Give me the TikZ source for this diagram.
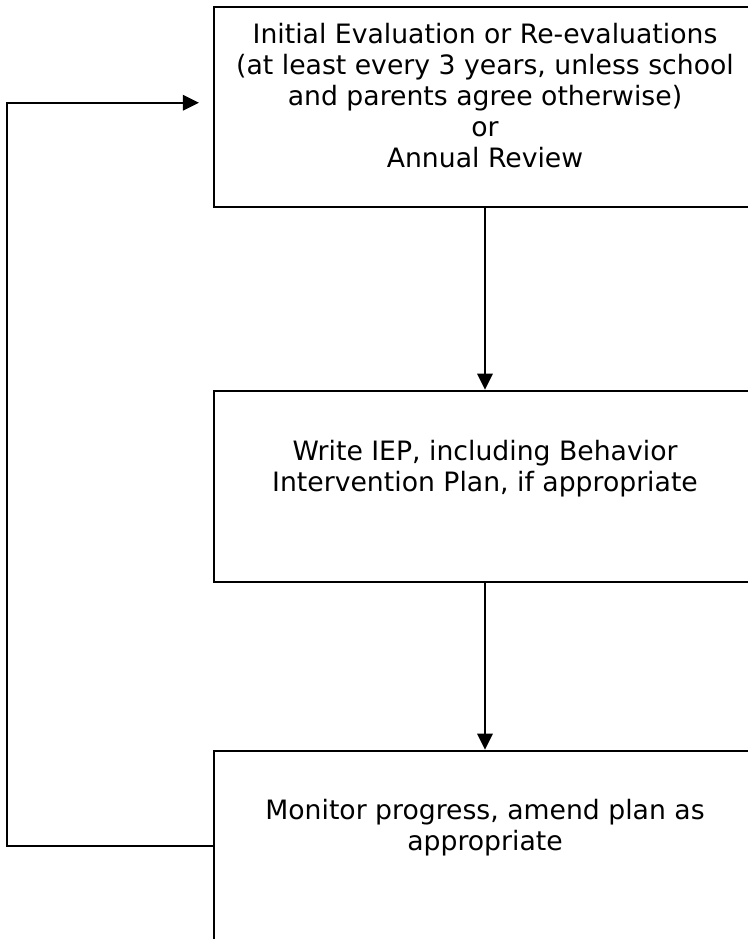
\documentclass[tikz,border=0pt]{standalone}
\usepackage{fontspec}
\setmainfont{DejaVu Sans}
\usetikzlibrary{arrows.meta}
\usetikzlibrary{positioning}

\begin{document}
\begin{tikzpicture}[x=0.75pt,y=-0.75pt]
      \tikzstyle stage=[draw, line width=1.6pt, minimum width=406.5pt, inner sep=0pt]
      \tikzstyle stagetext=[align=center, inner sep=0pt,
      font=\fontsize{20}{23.25}\selectfont]
      \tikzstyle flow=[line width=1.6pt, -{Triangle[length=12pt,width=11.5pt]}]
      \useasboundingbox (0,0) rectangle (747,939);
      \node [stage, minimum height=150pt] (eval) at (485,107) {};
      \node [stage, minimum height=143.25pt] (iep) at (485,486.2) {};
      \node [stage, minimum height=143.25pt] (monitor) at (485,846.2) {};
      \node [stagetext, below=13pt of eval.north] (evaltext)
      {Initial Evaluation or Re-evaluations\\(at least every 3 years, unless school\\and parents agree otherwise)\\or\\Annual Review};
      \node [stagetext, below=37.5pt of iep.north] (ieptext)
      {Write IEP, including Behavior\\Intervention Plan, if appropriate};
      \node [stagetext, below=37.3pt of monitor.north] (monitortext)
      {Monitor progress, amend plan as\\appropriate};
      \draw [flow] (eval) -- (iep);
      \draw [flow] (iep) -- (monitor);
      \coordinate (turn) at (7.3,102.7);
      \draw [flow, shorten >=10.5pt] (monitor.west) -| (turn) -- (turn -| eval.west);
\end{tikzpicture}
\end{document}
